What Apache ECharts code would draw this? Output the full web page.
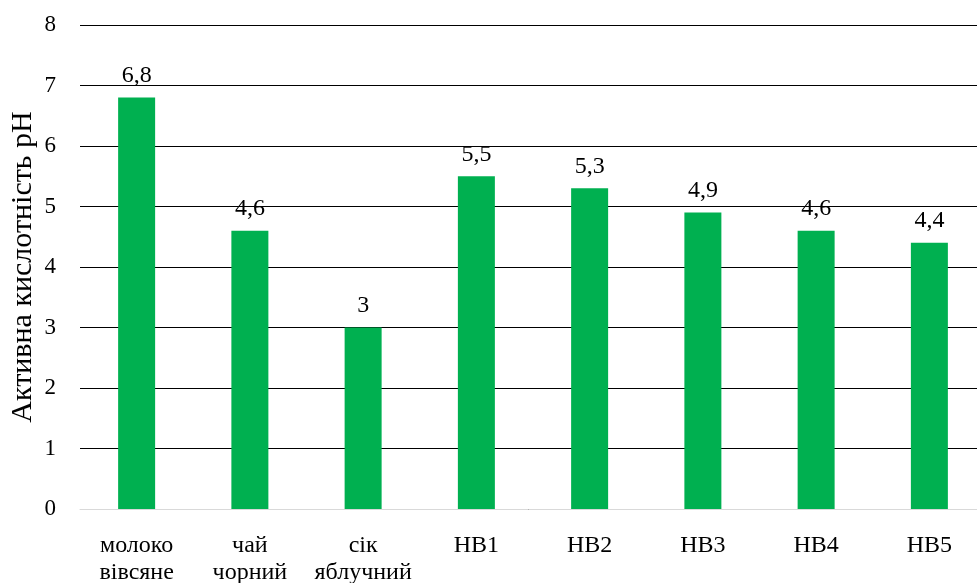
<!DOCTYPE html>
<html><head><meta charset="utf-8">
<script src="https://cdn.jsdelivr.net/npm/echarts@6/dist/echarts.min.js"></script>
<style>html,body{margin:0;padding:0;background:#fff}#c{width:977px;height:583px}</style>
</head><body><div id="c"></div>
<script>
const categories = ['молоко\nвівсяне', 'чай\nчорний', 'сік\nяблучний', 'НВ1', 'НВ2', 'НВ3', 'НВ4', 'НВ5'];
const values = [6.8, 4.6, 3, 5.5, 5.3, 4.9, 4.6, 4.4];
const yTicks = [0, 1, 2, 3, 4, 5, 6, 7, 8];
const yTitle = 'Активна кислотність pH';

const font = 'Liberation Serif, Times New Roman, serif';
const chart = echarts.init(document.getElementById('c'));
chart.setOption({
  animation: false,
  grid: { left: 80, right: -9, top: 25, bottom: 74, containLabel: false, outerBoundsMode: 'none' },
  xAxis: {
    type: 'category', data: categories,
    axisTick: { show: false },
    axisLine: { lineStyle: { color: '#d9d9d9', width: 1 } },
    axisLabel: { color: '#000', fontFamily: font, fontSize: 24, margin: 23, lineHeight: 27, interval: 0 }
  },
  yAxis: {
    type: 'value', min: yTicks[0], max: yTicks[yTicks.length - 1], interval: 1,
    name: yTitle, nameLocation: 'middle', nameGap: 42, nameMoveOverlap: false,
    nameTextStyle: { color: '#000', fontFamily: font, fontSize: 30 },
    axisLine: { show: false }, axisTick: { show: false },
    axisLabel: { color: '#000', fontFamily: font, fontSize: 23, margin: 24 },
    splitLine: { lineStyle: { color: '#000', width: 1 } }
  },
  series: [{
    type: 'bar', data: values, barWidth: 37,
    itemStyle: { color: '#00B050' },
    label: { show: true, position: 'top', distance: 10, color: '#000', fontFamily: font, fontSize: 24,
      formatter: p => String(p.value).replace('.', ',') }
  }]
});
</script></body></html>
